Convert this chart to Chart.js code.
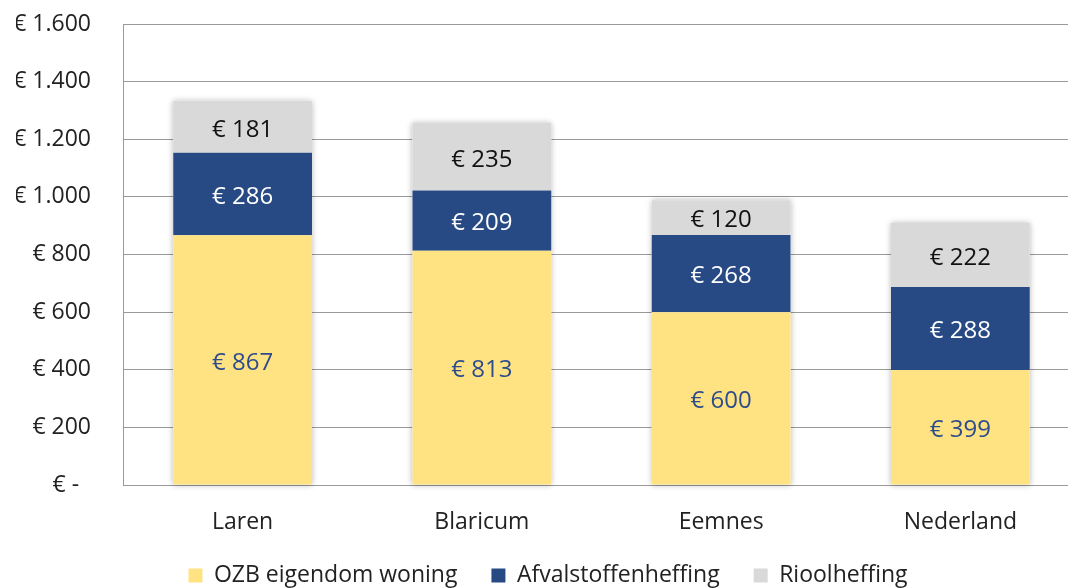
<!DOCTYPE html>
<html>
<head>
<meta charset="utf-8">
<script src="https://cdn.jsdelivr.net/npm/chart.js@4.4.1/dist/chart.umd.min.js"></script>
<style>
  html, body { margin: 0; padding: 0; background: #fff; overflow: hidden; }
  #wrap { position: absolute; left: 0; top: 0; width: 1110px; height: 597px; }
</style>
</head>
<body>
<div id="wrap"><canvas id="chart"></canvas></div>
<script>
// Gemeentelijke woonlasten per huishouden (euro), opgebouwd per heffing
const categories = ['Laren', 'Blaricum', 'Eemnes', 'Nederland'];
const ozb = [867, 813, 600, 399];
const afval = [286, 209, 268, 288];
const riool = [181, 235, 120, 222];
const seriesNames = ['OZB eigendom woning', 'Afvalstoffenheffing', 'Rioolheffing'];
const yTickLabels = ['€ -  ', '€ 200', '€ 400', '€ 600', '€ 800', '€ 1.000', '€ 1.200', '€ 1.400', '€ 1.600'];

const FONT = "'Open Sans', 'Noto Sans', sans-serif";
const colors = ['#FFE382', '#284A84', '#D9D9D9'];
const labelColors = ['#2E4C8C', '#FFFFFF', '#111111'];

// Soft shadow behind each full stacked column
const columnShadow = {
  id: 'columnShadow',
  beforeDatasetsDraw(chart) {
    const ctx = chart.ctx;
    const top = chart.getDatasetMeta(2).data;
    const bottom = chart.getDatasetMeta(0).data;
    ctx.save();
    ctx.shadowColor = 'rgba(0,0,0,0.28)';
    ctx.shadowBlur = 6;
    ctx.fillStyle = '#ffffff';
    top.forEach((el, i) => {
      const b = bottom[i];
      ctx.fillRect(el.x - el.width / 2, el.y, el.width, b.base - el.y);
    });
    ctx.restore();
  }
};

// Value labels centred in each segment
const segmentLabels = {
  id: 'segmentLabels',
  afterDatasetsDraw(chart) {
    const ctx = chart.ctx;
    ctx.save();
    ctx.font = '24px ' + FONT;
    ctx.textAlign = 'center';
    ctx.textBaseline = 'middle';
    chart.data.datasets.forEach((ds, di) => {
      const meta = chart.getDatasetMeta(di);
      meta.data.forEach((el, i) => {
        ctx.fillStyle = labelColors[di];
        ctx.fillText('€ ' + ds.data[i], el.x, (el.y + el.base) / 2 + 3);
      });
    });
    ctx.restore();
  }
};

new Chart(document.getElementById('chart'), {
  type: 'bar',
  data: {
    labels: categories,
    datasets: [
      { label: seriesNames[0], data: ozb, backgroundColor: colors[0] },
      { label: seriesNames[1], data: afval, backgroundColor: colors[1] },
      { label: seriesNames[2], data: riool, backgroundColor: colors[2] }
    ]
  },
  options: {
    responsive: true,
    maintainAspectRatio: false,
    animation: false,
    devicePixelRatio: 1,
    layout: { padding: { left: 16, right: 30, top: 24, bottom: 0 } },
    datasets: { bar: { barPercentage: 0.58, categoryPercentage: 1, borderWidth: 0 } },
    scales: {
      x: {
        stacked: true,
        grid: { display: false, drawTicks: false },
        border: { display: true, color: '#9A9A9A', width: 1 },
        ticks: { color: '#222', padding: 24, font: { family: FONT, size: 23, lineHeight: 1.2 } },
        afterFit(axis) { axis.height = 45; }
      },
      y: {
        stacked: true,
        min: 0,
        max: 1600,
        grid: { color: '#9A9A9A', lineWidth: 1, drawTicks: true, tickLength: 32, tickColor: 'rgba(0,0,0,0)' },
        border: { display: true, color: '#9A9A9A', width: 1 },
        ticks: {
          stepSize: 200,
          padding: 0,
          color: '#222',
          font: { family: FONT, size: 23, lineHeight: 1.2 },
          callback: (v) => yTickLabels[Math.round(v / 200)]
        },
        afterFit(axis) { axis.width = 107; }
      }
    },
    plugins: {
      tooltip: { enabled: false },
      legend: {
        position: 'bottom',
        labels: {
          boxWidth: 14,
          boxHeight: 14,
          padding: 34,
          color: '#222',
          font: { family: FONT, size: 23 }
        }
      }
    }
  },
  plugins: [columnShadow, segmentLabels]
});
</script>
</body>
</html>
